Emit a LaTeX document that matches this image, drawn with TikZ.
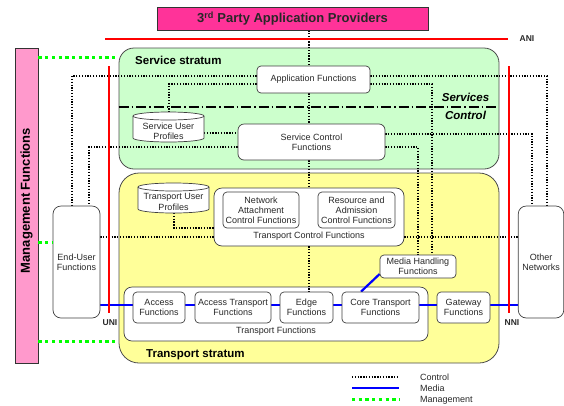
\documentclass[tikz,border=0pt]{standalone}
\usepackage{fontspec}
\setmainfont{Liberation Sans}
\definecolor{tpmag}{RGB}{255,51,153}
\definecolor{mgpink}{RGB}{255,153,204}
\definecolor{ssgreen}{RGB}{204,255,204}
\definecolor{tsyellow}{RGB}{255,255,153}
\definecolor{mgreen}{RGB}{0,255,0}
\definecolor{txt}{RGB}{40,40,40}
\pgfdeclarelayer{back}
\pgfdeclarelayer{mid}
\pgfsetlayers{back,mid,main}
\begin{document}
\begin{tikzpicture}[x=1pt,y=-1pt,
  box/.style={draw=black!75, fill=white, rounded corners=4pt, align=center, inner sep=0pt,
    font=\fontsize{9}{10.2}\selectfont, text=txt, line width=0.7pt},
  stratum/.style={draw=black!70, line width=0.8pt, inner sep=0pt},
  lbl/.style={font=\fontsize{9}{10.2}\selectfont, text=txt, inner sep=0pt},
  title/.style={font=\fontsize{11.5}{13}\selectfont\bfseries, inner sep=0pt},
  svc/.style={font=\fontsize{11.5}{13}\selectfont\bfseries\itshape, inner sep=0pt, anchor=base},
  ifl/.style={font=\fontsize{8.5}{10}\selectfont\bfseries, inner sep=0pt, text=txt},
  ctrl/.style={line width=1.3pt, dash pattern=on 1.3pt off 1.5pt, black},
  media/.style={line width=2.4pt, blue},
  mgmtl/.style={line width=3pt, dash pattern=on 3.3pt off 3.4pt, mgreen},
  iface/.style={line width=2.5pt, red},
  dashdot/.style={line width=1.1pt, black, dash pattern=on 10pt off 3pt on 1.5pt off 3pt},
  cyl/.style={draw=black!75, fill=white, line width=0.7pt}
]
\useasboundingbox (0,0) rectangle (564,405);

% strata and containers (back layer)
\begin{pgfonlayer}{back}
\node[stratum, fill=ssgreen, rounded corners=15pt, minimum width=380pt, minimum height=121pt] (ss) at (309,108.5) {};
\node[stratum, fill=tsyellow, rounded corners=20pt, minimum width=380pt, minimum height=190pt] (ts) at (309,268) {};
\node[title, anchor=base west] (sslabel) at (135,64) {Service stratum};
\node[title, anchor=base west] (tslabel) at (146,357.5) {Transport stratum};
\node[svc] (svc1) at (465.5,101) {Services};
\node[svc] (svc2) at (465.5,119) {Control};
\draw[dashdot] (ss.west |- 0,107) -- (497,107);
\node[box, rounded corners=8pt, minimum width=190pt, minimum height=58pt] (tcf) at (309,217) {};
\node[lbl] (tcflabel) at (309,236) {Transport Control Functions};
\node[box, rounded corners=8pt, minimum width=304pt, minimum height=54pt] (tf) at (276,314) {};
\node[lbl] (tflabel) at (276,331) {Transport Functions};
\end{pgfonlayer}

% functional nodes (main layer)
\node[box, minimum width=113pt, minimum height=27pt] (app) at (313.5,79.5) {Application Functions};
\node[box, rounded corners=6pt, minimum width=147pt, minimum height=36pt] (scf) at (311.5,142) {Service Control\\Functions};
\node[box, rounded corners=8pt, minimum width=47pt, minimum height=112pt] (eu) at (76.5,262) {End-User\\Functions};
\node[box, rounded corners=8pt, minimum width=45.5pt, minimum height=112pt] (on) at (541,262) {Other\\Networks};
\node[box, minimum width=76pt, minimum height=23pt] (mh) at (418,266.5) {Media Handling\\Functions};
\node[box, minimum width=76pt, minimum height=36pt] (nac) at (261,210) {Network\\Attachment\\Control Functions};
\node[box, minimum width=77pt, minimum height=36pt] (rac) at (356.5,210) {Resource and\\Admission\\Control Functions};
\node[box, minimum width=52pt, minimum height=31pt] (acc) at (159,307.5) {Access\\Functions};
\node[box, minimum width=76pt, minimum height=31pt] (at) at (233,307.5) {Access Transport\\Functions};
\node[box, minimum width=53pt, minimum height=31pt] (edge) at (306.5,307.5) {Edge\\Functions};
\node[box, minimum width=77pt, minimum height=31pt] (core) at (380.5,307.5) {Core Transport\\Functions};
\node[box, minimum width=53pt, minimum height=31pt] (gw) at (463.5,307.5) {Gateway\\Functions};

% cylinders
\draw[cyl] (133,116) -- (133,138) arc[start angle=180, end angle=0, x radius=35.5, y radius=4]
  -- (204,116) arc[start angle=0, end angle=-180, x radius=35.5, y radius=4] -- cycle;
\draw[cyl] (133,116) arc[start angle=180, end angle=0, x radius=35.5, y radius=4];
\node[lbl, align=center] (sup) at (168.5,131) {Service User\\Profiles};
\draw[cyl] (138,187) -- (138,209) arc[start angle=180, end angle=0, x radius=35.5, y radius=4]
  -- (209,187) arc[start angle=0, end angle=-180, x radius=35.5, y radius=4] -- cycle;
\draw[cyl] (138,187) arc[start angle=180, end angle=0, x radius=35.5, y radius=4];
\node[lbl, align=center] (tup) at (173.5,202) {Transport User\\Profiles};

% third party
\node[draw=black!80, fill=tpmag, minimum width=271pt, minimum height=23pt, inner sep=0pt,
  font=\fontsize{13}{15}\selectfont\bfseries, text=txt] (tp) at (292.5,18.5) {3\textsuperscript{rd} Party Application Providers};

% management
\node[draw=black!80, fill=mgpink, minimum width=23pt, minimum height=315pt, inner sep=0pt, line width=0.8pt] (mgmt) at (26.5,205.5) {};
\node[rotate=90, inner sep=0pt, font=\fontsize{13}{15}\selectfont\bfseries] (mgmtlabel) at (26.5,200.5) {Management Functions};

\coordinate (suptop) at (169,112);
\coordinate (supright) at (204,133);
\coordinate (tupbot) at (174,213);
\coordinate (ani1) at (105,39); \coordinate (ani2) at (508,39);
\coordinate (uni1) at (109,66); \coordinate (uni2) at (109,313);
\coordinate (nni1) at (509,66); \coordinate (nni2) at (509,313);

\begin{pgfonlayer}{mid}
% control lines
\draw[ctrl] (app.east |- 0,76) -| (on.north -| 547,0);
\draw[ctrl] (app.east |- 0,84) -| (mh.north -| 432,0);
\draw[ctrl] (scf.east |- 0,134) -| (on.north -| 532,0);
\draw[ctrl] (scf.east |- 0,147) -| (mh.north);
\draw[ctrl] (app.west |- 0,76) -| (eu.north -| 72,0);
\draw[ctrl] (app.west |- 0,84) -| (suptop);
\draw[ctrl] (supright) -- (scf.west |- 0,133);
\draw[ctrl] (scf.west |- 0,147) -| (eu.north -| 89,0);
\draw[ctrl] (tupbot) |- (tcf.west |- 0,228);
\draw[ctrl] (eu.east |- 0,237) -- (tcf.west |- 0,237);
\draw[ctrl] (tcf.east |- 0,237) -- (on.west |- 0,237);
\draw[ctrl] (tp.south -| 309,0) -- (app.north -| 309,0);
\draw[ctrl] (app.south -| 309,0) -- (scf.north -| 309,0);
\draw[ctrl] (scf.south -| 309,0) -- (tcf.north -| 309,0);
\draw[ctrl] (tcf.south -| 309,0) -- (edge.north -| 309,0);
% media lines
\draw[media] (eu.east |- 0,305) -- (acc.west |- 0,305);
\draw[media] (acc.east |- 0,305) -- (at.west |- 0,305);
\draw[media] (at.east |- 0,305) -- (edge.west |- 0,305);
\draw[media] (edge.east |- 0,305) -- (core.west |- 0,305);
\draw[media] (core.east |- 0,305) -- (gw.west |- 0,305);
\draw[media] (gw.east |- 0,305) -- (on.west |- 0,305);
\draw[line width=2.2pt, blue] (mh.west |- 0,274) -- (core.north -| 361,0);
% interfaces
\draw[iface] (ani1) -- (ani2);
\draw[iface] (uni1) -- (uni2);
\draw[iface] (nni1) -- (nni2);
\end{pgfonlayer}
\node[ifl] (anil) at (527,39) {ANI};
\node[ifl] (unil) at (110,322.5) {UNI};
\node[ifl] (nnil) at (512,322.5) {NNI};

% management links
\draw[mgmtl] (mgmt.east |- 0,57) -- (ss.west |- 0,57);
\draw[mgmtl] (mgmt.east |- 0,242) -- (eu.west |- 0,242);
\draw[mgmtl] (mgmt.east |- 0,341) -- (ts.west |- 0,341);

% legend
\coordinate (lc1) at (352,377); \coordinate (lc2) at (399,377);
\coordinate (lm1) at (352,388); \coordinate (lm2) at (399,388);
\coordinate (lg1) at (352,399); \coordinate (lg2) at (399,399);
\draw[ctrl] (lc1) -- (lc2);
\draw[media] (lm1) -- (lm2);
\draw[mgmtl] (lg1) -- (lg2);
\node[lbl, anchor=base west] (legc) at (420,380.5) {Control};
\node[lbl, anchor=base west] (legm) at (420,391.5) {Media};
\node[lbl, anchor=base west] (legg) at (420,402) {Management};
\end{tikzpicture}
\end{document}
